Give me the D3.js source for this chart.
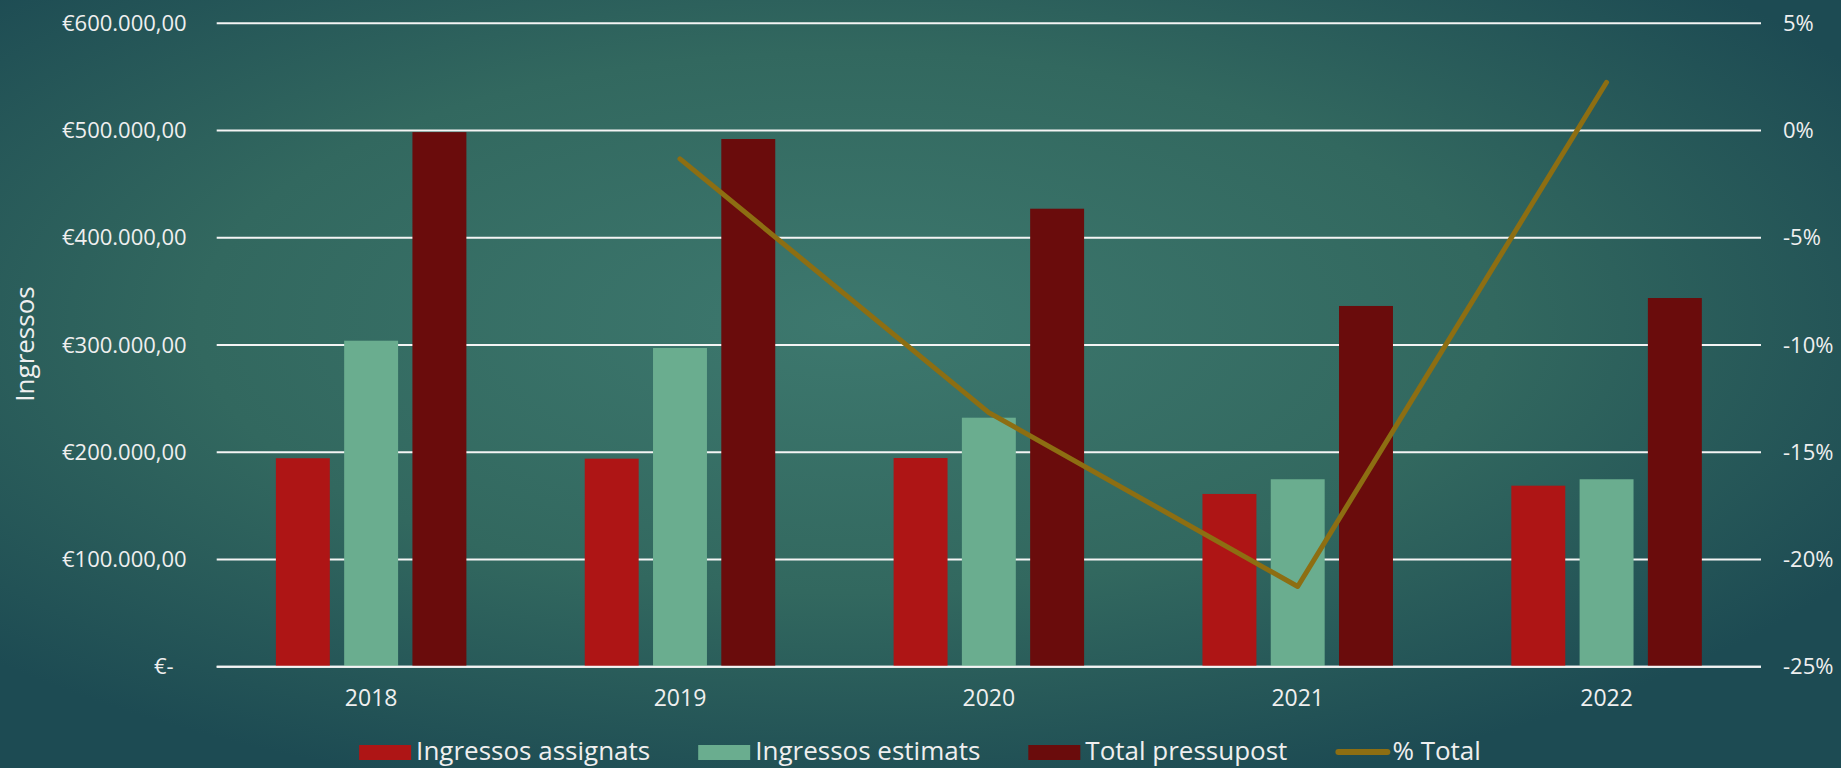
<!DOCTYPE html>
<html>
<head>
<meta charset="utf-8">
<script src="https://cdn.jsdelivr.net/npm/d3@7"></script>
<style>
    body { margin: 0; overflow: hidden; }
    svg { display: block; font-family: 'Open Sans', sans-serif; }
</style>
</head>
<body>
<div id="chart"></div>
<script>
// values
let years = ['2018', '2019', '2020', '2021', '2022'];
let seriesNames = ['Ingressos assignats', 'Ingressos estimats', 'Total pressupost'];
let assignats = [194400, 194000, 194600, 161100, 168800];
let estimats = [304000, 297200, 232200, 174800, 174800];
let totalPressupost = [498500, 492100, 427100, 336400, 343800];
let pctTotal = [null, -0.0132, -0.1315, -0.2126, 0.0225];
let lineName = '% Total';
let leftTicks = [0, 100000, 200000, 300000, 400000, 500000, 600000];
let rightTicks = [-0.25, -0.20, -0.15, -0.10, -0.05, 0, 0.05];

let width = 1841, height = 768;
let colors = ['#ae1515', '#6aad8f', '#6a0c0c'];
let lineColor = '#8d6e12';
let textColor = '#efefef';

let plotLeft = 216.7, plotRight = 1761, plotTop = 23.3, plotBottom = 666.7;

let svg = d3.select('#chart')
    .append('svg')
    .attr('width', width)
    .attr('height', height);

// background
let grad = svg.append('defs')
    .append('radialGradient')
    .attr('id', 'bg')
    .attr('cx', '0.46').attr('cy', '0.42').attr('r', '0.64');
grad.append('stop').attr('offset', '0%').attr('stop-color', '#3d786e');
grad.append('stop').attr('offset', '55%').attr('stop-color', '#32685f');
grad.append('stop').attr('offset', '100%').attr('stop-color', '#1d4b53');

svg.append('rect')
    .attr('width', width)
    .attr('height', height)
    .attr('fill', 'url(#bg)');

let x = d3.scaleBand()
    .domain(years)
    .range([plotLeft, plotRight]);

let groupW = 190.5;
let xInner = d3.scaleBand()
    .domain(seriesNames)
    .range([(x.bandwidth() - groupW) / 2, (x.bandwidth() + groupW) / 2])
    .paddingInner(0.21);

let y = d3.scaleLinear()
    .domain([0, 600000])
    .range([plotBottom, plotTop]);

let yRight = d3.scaleLinear()
    .domain([-0.25, 0.05])
    .range([plotBottom, plotTop]);

let locale = d3.formatLocale({
    decimal: ',',
    thousands: '.',
    grouping: [3],
    currency: ['€', ''],
    minus: '-'
});
let euro = locale.format('$,.2f');
let pct = locale.format('.0%');

// gridlines
svg.append('g')
    .attr('id', 'gridG')
    .selectAll('line')
    .data(leftTicks)
    .join('line')
    .attr('x1', plotLeft)
    .attr('x2', plotRight)
    .attr('y1', d => y(d))
    .attr('y2', d => y(d))
    .attr('stroke', '#f4f4f4')
    .attr('stroke-width', 2);

// bars
let series = [assignats, estimats, totalPressupost];
let barData = [];
series.forEach((vals, i) => {
    vals.forEach((v, j) => barData.push({ year: years[j], name: seriesNames[i], value: v, i: i }));
});

svg.append('g')
    .attr('id', 'barG')
    .selectAll('rect')
    .data(barData)
    .join('rect')
    .attr('x', d => x(d.year) + xInner(d.name))
    .attr('width', xInner.bandwidth())
    .attr('y', d => y(d.value))
    .attr('height', d => y(0) - y(d.value))
    .attr('fill', d => colors[d.i]);

// baseline on top of bars
svg.append('line')
    .attr('x1', plotLeft)
    .attr('x2', plotRight)
    .attr('y1', y(0))
    .attr('y2', y(0))
    .attr('stroke', '#f4f4f4')
    .attr('stroke-width', 2);

// % line
let line = d3.line()
    .defined(d => d != null)
    .x((d, i) => x(years[i]) + x.bandwidth() / 2)
    .y(d => yRight(d));

svg.append('path')
    .datum(pctTotal)
    .attr('d', line)
    .attr('fill', 'none')
    .attr('stroke', lineColor)
    .attr('stroke-width', 5)
    .attr('stroke-linecap', 'round')
    .attr('stroke-linejoin', 'round');

// axes
let leftAxis = svg.append('g')
    .attr('transform', `translate(${plotLeft},0)`)
    .call(d3.axisLeft(y)
        .tickValues(leftTicks)
        .tickFormat(d => d === 0 ? '€-' : euro(d))
        .tickSize(0)
        .tickPadding(30));

let rightAxis = svg.append('g')
    .attr('transform', `translate(${plotRight},0)`)
    .call(d3.axisRight(yRight)
        .tickValues(rightTicks)
        .tickFormat(pct)
        .tickSize(0)
        .tickPadding(22));

let bottomAxis = svg.append('g')
    .attr('transform', `translate(0,${plotBottom})`)
    .call(d3.axisBottom(x)
        .tickSize(0)
        .tickPadding(23));

[leftAxis, rightAxis, bottomAxis].forEach(a => {
    a.select('.domain').remove();
    a.selectAll('text')
        .attr('fill', textColor)
        .style('font-family', "'Open Sans', sans-serif")
        .style('font-size', '22px');
});
bottomAxis.selectAll('text').style('font-size', '23px');

// accounting format pads the zero dash
leftAxis.selectAll('.tick text')
    .filter(d => d === 0)
    .attr('dx', -13);

// axis title
svg.append('text')
    .attr('transform', 'translate(34,344) rotate(-90)')
    .attr('text-anchor', 'middle')
    .attr('fill', textColor)
    .style('font-size', '26px')
    .text('Ingressos');

// legend
let legendItems = seriesNames.map((n, i) => ({ name: n, color: colors[i], type: 'bar' }))
    .concat([{ name: lineName, color: lineColor, type: 'line' }]);

let legend = svg.append('g').attr('id', 'legendG');
let cursor = 0;
legendItems.forEach(d => {
    let g = legend.append('g').attr('transform', `translate(${cursor},0)`);
    if (d.type === 'bar') {
        g.append('rect')
            .attr('x', 0).attr('y', -15)
            .attr('width', 52).attr('height', 15)
            .attr('fill', d.color);
    } else {
        g.append('line')
            .attr('x1', 3).attr('x2', 52)
            .attr('y1', -8).attr('y2', -8)
            .attr('stroke', d.color)
            .attr('stroke-width', 6)
            .attr('stroke-linecap', 'round');
    }
    let t = g.append('text')
        .attr('x', 57)
        .attr('fill', textColor)
        .style('font-size', '26px')
        .text(d.name);
    cursor += 57 + t.node().getComputedTextLength() + 48;
});
let legendW = cursor - 48;
legend.attr('transform', `translate(${920 - legendW / 2},760)`);
</script>
</body>
</html>
